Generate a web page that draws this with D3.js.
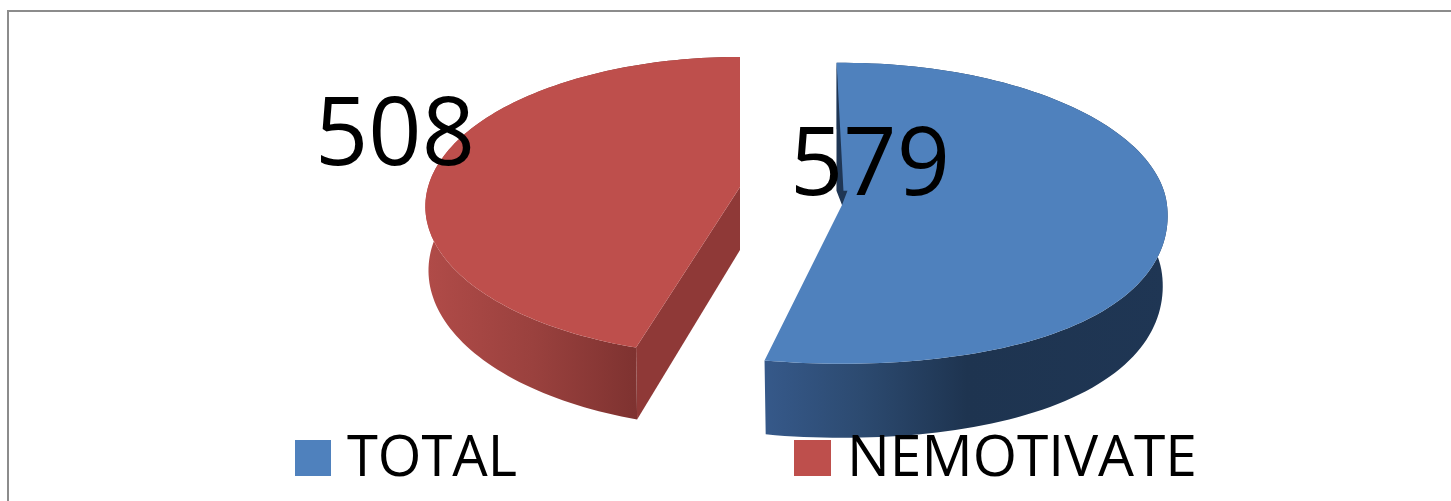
<!DOCTYPE html>
<html lang="en">
<head>
    <meta charset="UTF-8">
    <title>d3 pie 3d</title>
    <script src="https://cdn.jsdelivr.net/npm/d3@7/dist/d3.min.js"></script>
    <style>
        html, body { margin: 0; padding: 0; background: #fff; overflow: hidden; }
        svg { display: block; }
        text { font-family: "Open Sans", "Noto Sans", sans-serif; fill: #000; }
    </style>
</head>
<body>
<script>
	// data
	var categories = ["TOTAL", "NEMOTIVATE"];
	var values = [579, 508];

	var width = 1451, height = 501;
	var topColors = ["#4f81bd", "#be4f4c"];

	// each slice is exploded, so it has its own projection
	// nudge = small correction of the slice edges (degrees) for the picture's perspective
	// boxy = how far the front corners of the rim bulge past a plain ellipse
	var sliceLayout = [
		{cx: 842, cy: 205, rx: 325, ry: 150, k: 0.055, depth: 70, shrink: 0.985, boxy: 0.03, nudge: [0, 2.2], cut: false},
		{cx: 740, cy: 187, rx: 312, ry: 147, k: 0.13, depth: 63, shrink: 0.99, boxy: 0, nudge: [6.2, 1], cut: true}
	];
	var labelLayout = [
		{x: 790, y: 195, w: 160},
		{x: 315, y: 165, w: 160}
	];
	var legendLayout = [
		{x: 295, w: 36, tx: 347, tw: 170},
		{x: 794, w: 37, tx: 847, tw: 350}
	];

	var svg = d3.select("body").append("svg").attr("width", width).attr("height", height);
	var defs = svg.append("defs");

	// wall gradients
	var wallStops = [
		[[0, "#36598a"], [0.24, "#2c4a70"], [0.5, "#1e3450"], [1, "#1f3654"]],
		[[0, "#b04b48"], [0.5, "#9a413e"], [1, "#7e3230"]]
	];
	var wallRange = [[764, 1170], [428, 638]];
	wallStops.forEach(function (stops, i) {
		var grad = defs.append("linearGradient").attr("id", "wall" + i)
			.attr("gradientUnits", "userSpaceOnUse")
			.attr("x1", wallRange[i][0]).attr("x2", wallRange[i][1]).attr("y1", 0).attr("y2", 0);
		stops.forEach(function (s) {
			grad.append("stop").attr("offset", s[0]).attr("stop-color", s[1]);
		});
	});

	// frame, runs off the right and bottom of the picture
	svg.append("path")
		.attr("d", "M8," + height + "V11H" + width)
		.attr("fill", "none").attr("stroke", "#8c8c8c").attr("stroke-width", 2);

	var pie = d3.pie().sort(null).startAngle(-Math.PI / 180).endAngle(2 * Math.PI - Math.PI / 180);
	var pieData = pie(values);
	var rad = Math.PI / 180;
	var line = d3.line();

	function project(p, theta, r) {
		var c = Math.cos(theta), s = Math.sin(2 * theta);
		var rr = c < 0 ? r * (1 + p.boxy * s * s) : r;
		var w = 1 + p.k * rr * c;
		return [p.cx + p.rx * rr * Math.sin(theta) / w, p.cy - p.ry * rr * c / w];
	}
	// same point on the lower plane of the disc
	function lower(p, theta, r) {
		var w = 1 + p.k * r * Math.cos(theta);
		var q = project(p, theta, r);
		return [p.cx + (q[0] - p.cx) * p.shrink, q[1] + p.depth / w];
	}

	var gs = svg.selectAll("g.slice").data(pieData).enter().append("g").attr("class", "slice");

	gs.each(function (d, i) {
		var p = sliceLayout[i];
		var g = d3.select(this);
		var a0 = d.startAngle + p.nudge[0] * rad;
		var a1 = d.endAngle + p.nudge[1] * rad;
		var sweep = d3.scaleLinear().domain([0, 120]).range([a0, a1]);
		var thetas = d3.range(0, 121).map(sweep);
		var rimTop = thetas.map(function (t) { return project(p, t, 1); });
		var rimLow = thetas.map(function (t) { return lower(p, t, 1); }).reverse();
		var apex = project(p, 0, 0);

		if (p.cut) {
			g.append("path")
				.attr("d", line([apex, project(p, a0, 1), lower(p, a0, 1), [apex[0], apex[1] + p.depth]]) + "Z")
				.attr("fill", "#8f3937");
		}
		g.append("path")
			.attr("d", line(rimTop.concat(rimLow)) + "Z")
			.attr("fill", "url(#wall" + i + ")");
		g.append("path")
			.attr("d", line([apex].concat(rimTop)) + "Z")
			.attr("fill", topColors[i]);

		// dark sliver of the inner wall along the back edge of the blue slice
		if (!p.cut) {
			var back = project(p, a0, 1);
			var along = d3.interpolateArray(back, apex);
			var q1 = along(0.3), q2 = along(0.9);
			g.append("path")
				.attr("d", line([back, [q1[0] - 5, q1[1]], apex, [q2[0] + 6, q2[1]], [q1[0] + 2, q1[1]]]) + "Z")
				.attr("fill", "#1f3654");
		}
	});

	// value labels
	svg.selectAll("text.value").data(values).enter().append("text")
		.attr("class", "value")
		.attr("x", function (d, i) { return labelLayout[i].x; })
		.attr("y", function (d, i) { return labelLayout[i].y; })
		.attr("font-size", 95)
		.attr("textLength", function (d, i) { return labelLayout[i].w; })
		.attr("lengthAdjust", "spacingAndGlyphs")
		.text(function (d) { return d; });

	// legend
	var legend = svg.selectAll("g.legend").data(categories).enter().append("g").attr("class", "legend");
	legend.append("rect")
		.attr("x", function (d, i) { return legendLayout[i].x; })
		.attr("y", 440)
		.attr("width", function (d, i) { return legendLayout[i].w; })
		.attr("height", 36)
		.attr("fill", function (d, i) { return topColors[i]; });
	legend.append("text")
		.attr("x", function (d, i) { return legendLayout[i].tx; })
		.attr("y", 476)
		.attr("font-size", 57)
		.attr("textLength", function (d, i) { return legendLayout[i].tw; })
		.attr("lengthAdjust", "spacingAndGlyphs")
		.text(function (d) { return d; });
</script>
</body>
</html>
